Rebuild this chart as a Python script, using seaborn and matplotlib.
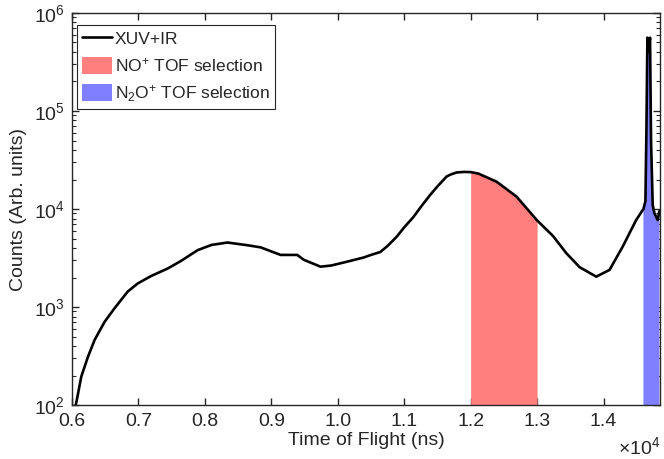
import numpy as np
import pandas as pd
import matplotlib
matplotlib.use("Agg")
import matplotlib.pyplot as plt
import matplotlib.ticker as mticker
from matplotlib.patches import Patch
from matplotlib.lines import Line2D
import seaborn as sns

# time of flight (ns) and counts
tof_ns = [6040, 6070, 6140, 6240, 6340, 6490, 6640, 6840, 6990, 7190, 7440, 7640,
          7890, 8100, 8340, 8640, 8840, 9140, 9390, 9490, 9740, 9900, 10140, 10390,
          10500, 10640, 10750, 10890, 11000, 11140, 11250, 11390, 11500, 11640, 11700,
          11790, 11900, 12000, 12115, 12390, 12690, 13000,
          13240, 13440, 13640, 13890, 14090, 14290, 14490, 14600, 14630, 14645, 14660,
          14680, 14700, 14715, 14740, 14765, 14815, 14840]
counts = [90, 110, 195, 310, 460, 705, 970, 1440, 1740, 2070, 2470, 2950,
          3800, 4300, 4550, 4270, 4060, 3400, 3400, 3030, 2580, 2650, 2900, 3200,
          3400, 3640, 4200, 5240, 6500, 8300, 10500, 13900, 17000, 21500, 22500,
          23600, 23900, 23800, 23000, 19000, 13400, 7650,
          5300, 3540, 2550, 2040, 2390, 4150, 7700, 10000, 12000, 60000, 560000,
          400000, 560000, 50000, 11000, 9100, 7700, 9500]

no_window = [12000, 13000]
n2o_window = [14600, 14850]
x_ticks = [6000, 7000, 8000, 9000, 10000, 11000, 12000, 13000, 14000]

df = pd.DataFrame({"tof": tof_ns, "counts": counts})

sns.set_style("ticks")
plt.rcParams['font.family'] = ['Liberation Sans', 'DejaVu Sans']
plt.rcParams['mathtext.fontset'] = 'custom'
plt.rcParams['mathtext.rm'] = 'Liberation Sans'
plt.rcParams['mathtext.it'] = 'Liberation Sans'

fig = plt.figure(figsize=(6.64, 4.59), dpi=100)
ax = fig.add_axes([0.1084, 0.1176, 0.8856, 0.8541])

x = np.array(tof_ns)
y = np.array(counts)
red_mask = (x >= no_window[0]) & (x <= no_window[1])
blue_mask = (x >= n2o_window[0]) & (x <= n2o_window[1])
ax.fill_between(x, 1, y, where=red_mask, color='#ff7f7f', lw=0)
ax.fill_between(x, 1, y, where=blue_mask, color='#7f7fff', lw=0)

sns.lineplot(data=df, x="tof", y="counts", color='black', lw=1.9, ax=ax)

ax.set_yscale('log')
ax.set_xlim(6000, 14850)
ax.set_ylim(1e2, 1e6)
ax.set_xticks(x_ticks)
ax.xaxis.set_major_formatter(mticker.FuncFormatter(lambda v, p: f"{v / 1e4:.1f}"))
ax.yaxis.set_major_locator(mticker.LogLocator(base=10, numticks=10))
ax.yaxis.set_minor_locator(mticker.LogLocator(base=10, subs=np.arange(2, 10), numticks=20))
ax.yaxis.set_minor_formatter(mticker.NullFormatter())

ax.tick_params(which='both', direction='in', top=True, right=True, colors='#262626',
               labelcolor='#262626', labelsize=14)
ax.tick_params(which='major', length=5, width=1)
ax.tick_params(which='minor', length=3, width=0.8)
ax.tick_params(axis='x', pad=6)
ax.tick_params(axis='y', pad=5)
for s in ax.spines.values():
    s.set_color('#262626')
    s.set_linewidth(1)

ax.set_xlabel('Time of Flight (ns)', fontsize=14, color='#262626', labelpad=1)
ax.set_ylabel('Counts (Arb. units)', fontsize=14, color='#262626', labelpad=5)
fig.text(0.994, 0.002, r'$\times10^4$', ha='right', va='bottom',
         fontsize=14, color='#262626')

handles = [Line2D([0], [0], color='black', lw=1.9),
           Patch(facecolor='#ff7f7f', edgecolor='none'),
           Patch(facecolor='#7f7fff', edgecolor='none')]
labels = ['XUV+IR', r'NO$^{+}$ TOF selection', r'N$_{2}$O$^{+}$ TOF selection']
leg = ax.legend(handles, labels, loc='upper left', bbox_to_anchor=(0.008, 0.97),
                fontsize=12.5, frameon=True, fancybox=False, framealpha=1,
                edgecolor='#262626', handlelength=1.75, handleheight=1.15,
                handletextpad=0.15, borderpad=0.3, labelspacing=0.5, borderaxespad=0)
leg.get_frame().set_linewidth(0.8)

fig.savefig('out.png', dpi=100)
